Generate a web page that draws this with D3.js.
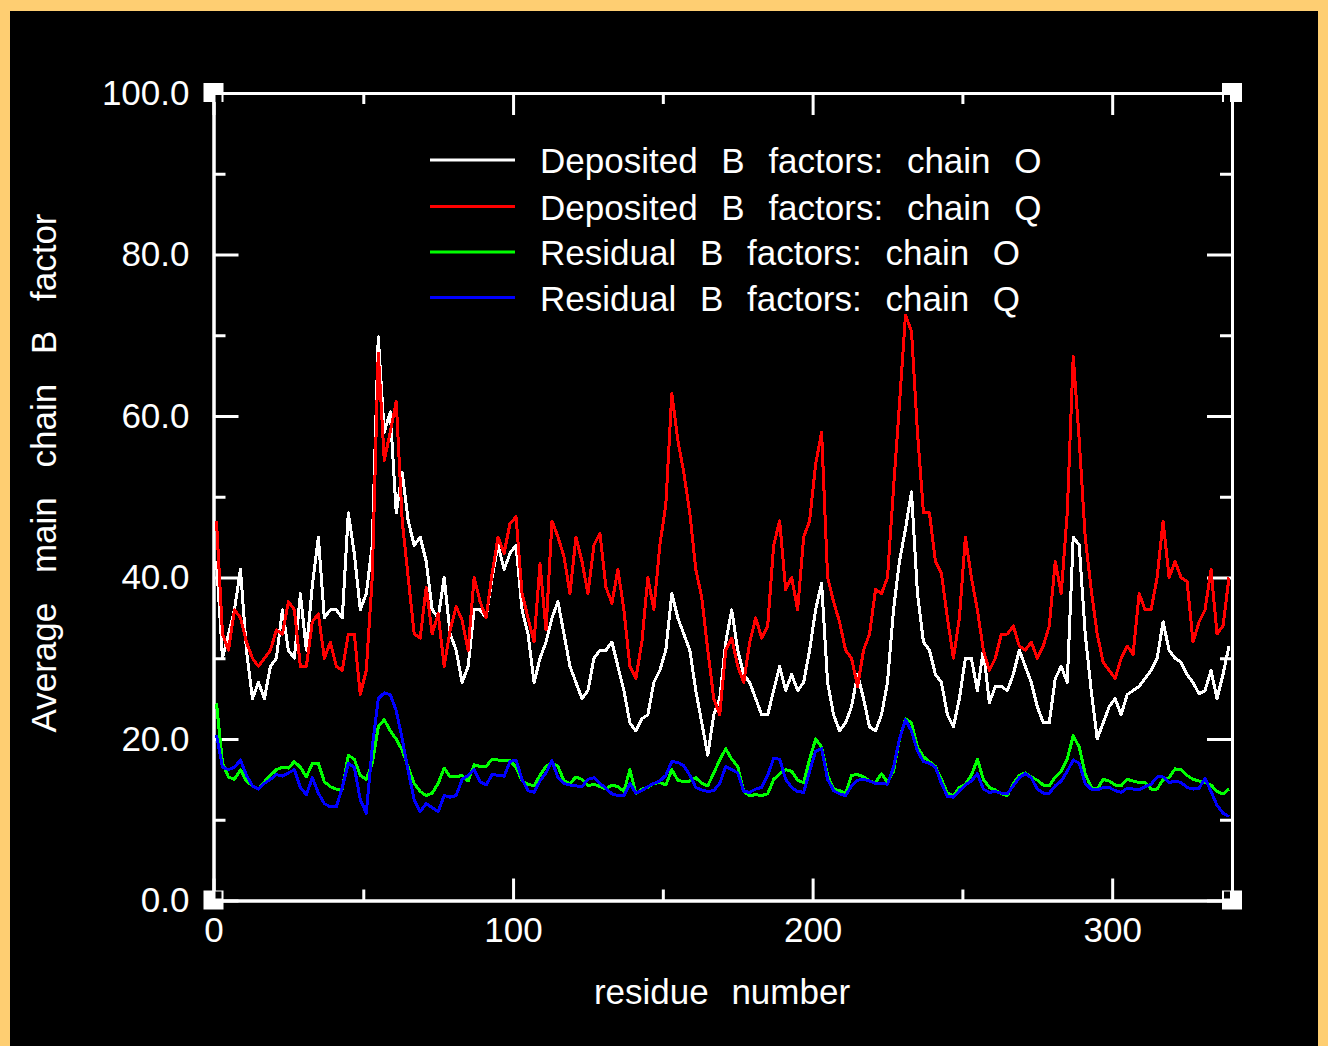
<!DOCTYPE html>
<html>
<head>
<meta charset="utf-8">
<script src="https://cdn.jsdelivr.net/npm/d3@7"></script>
<style>
  html, body { margin: 0; padding: 0; background: #FECE72; }
  svg { display: block; }
  text { font-family: "Liberation Sans", Arial, sans-serif; fill: #fff; }
</style>
</head>
<body>
<svg id="chart" width="1328" height="1046"></svg>
<script>
// ---------------- DATA ----------------
const residues = d3.range(1, 340, 2); // residue numbers sampled
const depositedO = [
  42,30,33,36,41,31,25,27,25,29,
  30,36,31,30,38,31,39,45,35,36,
  36,35,48,43,36,38,44,69.8,58,60.5,
  48,53,47,44,45,42,36,35,40,33,
  31,27,29,36,36,35,40,44,41,43,
  44,36,33,27,30,32,35,37,33,29,
  27,25,26,30,31,31,32,29,26,22,
  21,22.5,23,27,28.5,31,38,35,33,31,
  26,22,18,23,25,32,36,31,28,27,
  25,23,23,26,29,26,28,26,27,31,
  36,39.3,27,23,21,22,24,28,25,21.5,
  21,23,27,36,42,46,50.6,38,32,31,
  28,27,23,21.5,25,30,30,26,31,24.5,
  26.5,26.5,26,28,31,29,27,24,22,22,
  27.5,29,27,45,44,33,26,20,22,24,
  25,23,25.5,26,26.5,27.5,28.5,30,34.5,31,
  30,29.5,28,27,25.6,26,28.5,25,28,31.5
];
const depositedQ = [
  47,33,31,36,35,32,30,29,30,31,
  33.5,33,37,36,29,29,34.5,35.5,30,32,
  29,28.5,33,33,25.5,28.5,40,67.8,54.5,58,
  61.8,47,40,33,32.5,38.8,33,35.5,29,33.5,
  36.4,34.7,31,40,37,35,40.5,45,43,46.7,
  47.5,38,35,32,41.7,33.5,47,45,42.6,38,
  45,42,38,44,45.5,38.8,36.8,41,36,29,
  27.5,32,40,36,44,49,62.8,57,53,48,
  41,37.5,31,25,23,31,32.5,29,27,32,
  35,32.5,34,44,47,38.5,40,36,45,47,
  54,58,40,37,34.5,31,30,26.5,31,33,
  38.5,38,40,51,61.5,72.5,70.5,58,48,48,
  42,40.5,35,30,35,45,40,36,31,28.5,
  30,33,33,34,31.5,31,32,30,31.5,34,
  42,38,48,67.4,57,45,38.5,33,29.5,28.5,
  27.5,30,31.5,30.5,38,36,36,40,47,40,
  42,40,39.5,32,34.5,36,41,33,34,40
];
const residualO = [
  24.4,17,15.3,15,16.2,14.8,14.2,13.8,14.7,15.5,
  16.2,16.5,16.4,17.2,16.5,15.3,17,17,14.7,14.1,
  13.8,13.8,18,17.5,15.5,15,17,21.5,22.4,21,
  20,18.6,16.5,14.5,13.5,13,13.3,14.5,16.4,15.3,
  15.3,15.5,14.8,16.8,16.6,16.6,17.5,17.4,17.3,17.3,
  16.5,14.8,14.4,14.2,15.5,16.6,17,16.6,14.8,14.5,
  15.3,15,14.2,14.4,14.1,13.8,14.3,14.1,13.5,16.2,
  13.2,13.8,14,14.5,14.6,14.3,16.2,14.9,14.7,14.8,
  15.2,14.5,14.2,15.8,17.4,18.8,17.5,16.6,13.5,13,
  13.1,13,13.2,15,15.7,16.2,16,14.9,14.6,17.5,
  20,19,15.5,13.8,13.6,13.3,15.5,15.6,15.3,14.8,
  14.6,15.7,14.6,16,20,22.5,22,19,17.8,17.2,
  16.6,15,13.3,13,14,14.4,15.5,17.5,15,14,
  13.7,13.2,13,14.5,15.5,15.8,15.3,14.9,14.3,14.2,
  15.3,16,17.5,20.4,19,15.7,14,13.8,15,14.8,
  14.3,14.2,15,14.8,14.6,14.6,13.8,13.8,15,15.2,
  16.3,16.2,15.5,15,14.8,14.6,14.3,13.5,13.2,13.8
];
const residualQ = [
  20.5,16.5,16.2,16.5,17.4,15.5,14.2,13.8,14.5,15,
  15.6,15.4,15.8,16.2,14,13.1,15.2,13.3,12,11.6,
  11.6,14,17,16.5,12.5,10.8,19,25,25.7,25.5,
  23.5,20,16,12.5,11,12,11.5,11,13,12.8,
  13,15,15.5,16.2,14.7,14.3,15.6,15.5,15.4,17.2,
  17.4,15,13.6,13.4,14.8,15.8,17.3,15.2,14.5,14.3,
  14.2,14.1,15,15.2,14.5,13.9,13.2,13,13,14.5,
  13.3,13.6,14.1,14.5,14.8,15.5,17.2,17.1,16.7,15.5,
  14,13.7,13.5,13.6,14.5,16.6,16.2,15.8,13.5,13.4,
  13.8,14,15.5,17.6,17.5,15,14,13.5,13.4,16,
  18.5,18.8,15,13.6,13.2,13,14.2,14.9,15,14.8,
  14.5,14.5,14.4,16.5,20,22.4,21,18.5,17.2,17,
  16.5,14.5,12.9,12.8,13.6,14.3,14.8,15.7,13.8,13.4,
  13.5,13.3,13.2,14.2,15.2,15.7,15.2,13.8,13.3,13.3,
  14.2,14.8,16,17.4,17,14.5,13.8,13.7,14,14,
  13.6,13.4,13.9,13.8,13.7,14.1,14.4,15.3,15.3,14.6,
  14.8,14.6,14,13.8,13.9,15.1,13.5,11.8,10.8,10.4
];
const seriesNames = [
  "Deposited B factors: chain O",
  "Deposited B factors: chain Q",
  "Residual B factors: chain O",
  "Residual B factors: chain Q"
];
const seriesColors = ["#ffffff", "#ff0000", "#00ff00", "#0000ff"];
const yMajorTicks = [0, 20, 40, 60, 80, 100];
const yMinorTicks = [10, 30, 50, 70, 90];
const xMajorTicks = [0, 100, 200, 300];
const xMinorTicks = [50, 150, 250];
const xTitle = "residue number";
const yTitle = "Average main chain B factor";

// ---------------- DRAW ----------------
const svg = d3.select("#chart");
svg.append("rect").attr("x", 0).attr("y", 0).attr("width", 1328).attr("height", 1046).attr("fill", "#FECE72");
svg.append("rect").attr("x", 10).attr("y", 11).attr("width", 1308).attr("height", 1035).attr("fill", "#000");

const L = 213.5, R = 1232, T = 93, B = 900.5;
const x = d3.scaleLinear().domain([0, 340]).range([L, R]);
const y = d3.scaleLinear().domain([0, 100]).range([B, T]);

const FS = 35;
function styleAxis(g) {
  g.selectAll(".domain").attr("stroke", "#fff").attr("stroke-width", 3);
  g.selectAll(".tick line").attr("stroke", "#fff").attr("stroke-width", 3);
  g.selectAll(".tick text").attr("fill", "#fff").attr("font-size", FS)
    .attr("font-family", "Liberation Sans, Arial, sans-serif");
}

// left
svg.append("g").attr("transform", `translate(${L},0)`)
  .call(d3.axisLeft(y).tickValues(yMajorTicks).tickSize(-25).tickSizeOuter(0).tickPadding(24).tickFormat(d3.format(".1f")))
  .call(styleAxis);
svg.append("g").attr("transform", `translate(${L},0)`)
  .call(d3.axisLeft(y).tickValues(yMinorTicks).tickSize(-12).tickSizeOuter(0).tickFormat(""))
  .call(styleAxis);
// right
svg.append("g").attr("transform", `translate(${R},0)`)
  .call(d3.axisRight(y).tickValues(yMajorTicks).tickSize(-25).tickSizeOuter(0).tickFormat(""))
  .call(styleAxis);
svg.append("g").attr("transform", `translate(${R},0)`)
  .call(d3.axisRight(y).tickValues(yMinorTicks).tickSize(-12).tickSizeOuter(0).tickFormat(""))
  .call(styleAxis);
// bottom
svg.append("g").attr("transform", `translate(0,${B})`)
  .call(d3.axisBottom(x).tickValues(xMajorTicks).tickSize(-22).tickSizeOuter(0).tickPadding(17).tickFormat(d3.format("d")))
  .call(styleAxis);
svg.append("g").attr("transform", `translate(0,${B})`)
  .call(d3.axisBottom(x).tickValues(xMinorTicks).tickSize(-11).tickSizeOuter(0).tickFormat(""))
  .call(styleAxis);
// top
svg.append("g").attr("transform", `translate(0,${T})`)
  .call(d3.axisTop(x).tickValues(xMajorTicks).tickSize(-22).tickSizeOuter(0).tickFormat(""))
  .call(styleAxis);
svg.append("g").attr("transform", `translate(0,${T})`)
  .call(d3.axisTop(x).tickValues(xMinorTicks).tickSize(-11).tickSizeOuter(0).tickFormat(""))
  .call(styleAxis);

// corner markers
const corners = [[x(0), y(0), 1, -1], [x(0), y(100), 1, 1], [x(340), y(100), -1, 1], [x(340), y(0), -1, -1]];
corners.forEach(([cx, cy, sx, sy]) => {
  svg.append("rect").attr("x", cx - 10).attr("y", cy - 10).attr("width", 20).attr("height", 19).attr("fill", "#fff");
  const nx = sx > 0 ? cx + 2 : cx - 8;
  const ny = sy > 0 ? cy + 2 : cy - 9;
  svg.append("rect").attr("x", nx).attr("y", ny).attr("width", 6).attr("height", 7).attr("fill", "#000");
});

// lines
const allSeries = [depositedO, depositedQ, residualO, residualQ];
const line = d3.line().x((d, i) => x(residues[i])).y(d => y(d));
allSeries.forEach((s, k) => {
  svg.append("path").datum(s).attr("d", line)
    .attr("fill", "none").attr("stroke", seriesColors[k]).attr("stroke-width", 3)
    .attr("stroke-linejoin", "round").attr("shape-rendering", "crispEdges");
});

// legend
const legendY = [160, 206.5, 252, 297.5];
seriesNames.forEach((name, k) => {
  svg.append("line").attr("x1", 430).attr("x2", 515).attr("y1", legendY[k]).attr("y2", legendY[k])
    .attr("stroke", seriesColors[k]).attr("stroke-width", 3);
  svg.append("text").attr("x", 540).attr("y", legendY[k] + 13)
    .attr("font-size", FS).attr("word-spacing", 14).text(name);
});

// titles
svg.append("text").attr("x", 722).attr("y", 1004).attr("text-anchor", "middle")
  .attr("font-size", FS).attr("word-spacing", 13).text(xTitle);
svg.append("text").attr("transform", "translate(56,473) rotate(-90)").attr("text-anchor", "middle")
  .attr("font-size", FS).attr("word-spacing", 20).text(yTitle);
</script>
</body>
</html>
